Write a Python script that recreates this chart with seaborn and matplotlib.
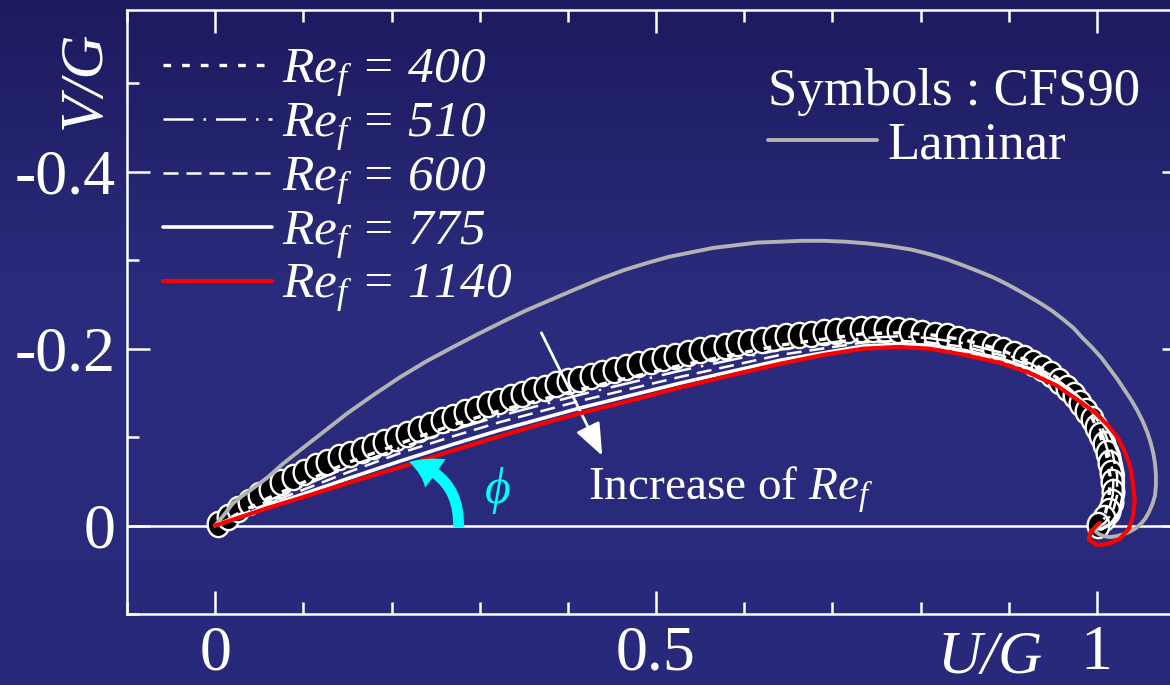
import numpy as np
import matplotlib
matplotlib.use("Agg")
import matplotlib.pyplot as plt
import seaborn as sns
from matplotlib.path import Path
from matplotlib.patches import FancyArrowPatch
from matplotlib.colors import LinearSegmentedColormap
from matplotlib.ticker import FixedLocator, MultipleLocator, FuncFormatter

# ---------------------------------------------------------------- data
# CFS90 computation (symbols): (U/G, V/G)
cfs_u = [0.003, 0.014, 0.026, 0.038, 0.050, 0.062, 0.075, 0.088, 0.101, 0.114,
         0.127, 0.140, 0.153, 0.166, 0.179, 0.192, 0.205, 0.218, 0.231, 0.244,
         0.257, 0.270, 0.283, 0.296, 0.309, 0.322, 0.335, 0.348, 0.361, 0.374,
         0.387, 0.400, 0.413, 0.426, 0.439, 0.452, 0.466, 0.480, 0.494, 0.508,
         0.522, 0.536, 0.550, 0.564, 0.578, 0.592, 0.606, 0.620, 0.634, 0.648,
         0.662, 0.676, 0.690, 0.704, 0.718, 0.732, 0.746, 0.760, 0.774, 0.788,
         0.802, 0.816, 0.830, 0.843, 0.856, 0.869, 0.882, 0.894, 0.906, 0.917,
         0.928, 0.938, 0.948, 0.957, 0.966, 0.974, 0.981, 0.988, 0.994, 0.999,
         1.004, 1.008, 1.011, 1.014, 1.016, 1.017, 1.018, 1.017, 1.014, 1.008,
         1.001]
cfs_v = [-0.002, -0.010, -0.019, -0.027, -0.034, -0.041, -0.049, -0.055, -0.061, -0.067,
         -0.072, -0.077, -0.081, -0.086, -0.090, -0.095, -0.099, -0.104, -0.109, -0.114,
         -0.119, -0.123, -0.128, -0.132, -0.137, -0.141, -0.145, -0.149, -0.153, -0.156,
         -0.160, -0.163, -0.166, -0.169, -0.172, -0.176, -0.179, -0.183, -0.186, -0.189,
         -0.192, -0.195, -0.198, -0.201, -0.203, -0.206, -0.208, -0.210, -0.212, -0.214,
         -0.216, -0.217, -0.219, -0.220, -0.221, -0.222, -0.222, -0.222, -0.221, -0.220,
         -0.218, -0.216, -0.214, -0.211, -0.208, -0.205, -0.202, -0.198, -0.194, -0.190,
         -0.184, -0.178, -0.171, -0.164, -0.156, -0.148, -0.139, -0.130, -0.121, -0.112,
         -0.102, -0.092, -0.082, -0.071, -0.060, -0.049, -0.038, -0.027, -0.017, -0.008,
         -0.001]

# Laminar solution
lam_u = [0.000, 0.005, 0.010, 0.020, 0.030, 0.040, 0.059, 0.077, 0.096, 0.123,
         0.150, 0.180, 0.210, 0.240, 0.270, 0.297, 0.323, 0.352, 0.380, 0.408,
         0.437, 0.464, 0.490, 0.515, 0.540, 0.565, 0.590, 0.615, 0.641, 0.665,
         0.690, 0.715, 0.740, 0.765, 0.790, 0.810, 0.830, 0.849, 0.867, 0.884,
         0.900, 0.918, 0.935, 0.949, 0.962, 0.974, 0.984, 0.995, 1.005, 1.014,
         1.023, 1.031, 1.039, 1.046, 1.052, 1.057, 1.061, 1.064, 1.066, 1.067,
         1.067, 1.066, 1.063, 1.059, 1.055, 1.050, 1.044, 1.037, 1.030, 1.022,
         1.015, 1.008, 1.003, 0.999, 0.998, 1.000]
lam_v = [0.000, -0.006, -0.012, -0.025, -0.033, -0.040, -0.054, -0.070, -0.085, -0.106,
         -0.127, -0.148, -0.168, -0.186, -0.202, -0.216, -0.229, -0.243, -0.255, -0.267,
         -0.279, -0.289, -0.297, -0.304, -0.309, -0.314, -0.317, -0.320, -0.321, -0.322,
         -0.322, -0.321, -0.319, -0.316, -0.312, -0.307, -0.301, -0.294, -0.287, -0.280,
         -0.272, -0.262, -0.252, -0.243, -0.233, -0.223, -0.212, -0.201, -0.190, -0.178,
         -0.166, -0.154, -0.142, -0.130, -0.118, -0.106, -0.094, -0.082, -0.070, -0.058,
         -0.045, -0.034, -0.024, -0.015, -0.008, -0.002, 0.003, 0.007, 0.010, 0.012,
         0.013, 0.012, 0.010, 0.007, 0.004, 0.000]

# Re_f = 400
re400_u = [0.000, 0.060, 0.150, 0.210, 0.270, 0.323, 0.414, 0.527, 0.641, 0.735,
           0.775, 0.810, 0.850, 0.890, 0.925, 0.955, 0.976, 0.992, 1.003, 1.011,
           1.015, 1.014, 1.010, 1.003, 1.000]
re400_v = [0.000, -0.031, -0.071, -0.093, -0.114, -0.130, -0.154, -0.181, -0.204, -0.217,
           -0.218, -0.216, -0.210, -0.199, -0.185, -0.167, -0.148, -0.127, -0.104, -0.080,
           -0.056, -0.034, -0.015, -0.003, 0.000]

# Re_f = 510
re510_u = [0.000, 0.060, 0.150, 0.210, 0.270, 0.323, 0.414, 0.527, 0.641, 0.735,
           0.775, 0.810, 0.850, 0.890, 0.925, 0.955, 0.977, 0.994, 1.006, 1.014,
           1.019, 1.018, 1.013, 1.005, 1.000]
re510_v = [0.000, -0.028, -0.066, -0.088, -0.108, -0.124, -0.148, -0.175, -0.199, -0.212,
           -0.214, -0.212, -0.206, -0.196, -0.183, -0.166, -0.147, -0.126, -0.104, -0.080,
           -0.056, -0.034, -0.015, -0.003, 0.000]

# Re_f = 600
re600_u = [0.000, 0.060, 0.150, 0.210, 0.270, 0.323, 0.414, 0.527, 0.641, 0.735,
           0.775, 0.810, 0.850, 0.890, 0.925, 0.955, 0.978, 0.996, 1.009, 1.018,
           1.023, 1.023, 1.018, 1.009, 1.001, 1.000]
re600_v = [0.000, -0.025, -0.060, -0.082, -0.101, -0.117, -0.141, -0.168, -0.193, -0.207,
           -0.209, -0.207, -0.202, -0.193, -0.181, -0.165, -0.147, -0.127, -0.105, -0.081,
           -0.057, -0.034, -0.015, -0.003, 0.002, 0.000]

# Re_f = 775
re775_u = [0.000, 0.060, 0.150, 0.210, 0.270, 0.323, 0.414, 0.527, 0.641, 0.735,
           0.775, 0.810, 0.850, 0.890, 0.925, 0.955, 0.980, 1.000, 1.015, 1.025,
           1.030, 1.030, 1.026, 1.016, 1.005, 0.998, 1.000]
re775_v = [0.000, -0.022, -0.053, -0.073, -0.092, -0.108, -0.133, -0.161, -0.187, -0.203,
           -0.205, -0.204, -0.198, -0.189, -0.177, -0.162, -0.144, -0.126, -0.105, -0.082,
           -0.058, -0.035, -0.015, -0.002, 0.004, 0.003, 0.000]

# Re_f = 1140
re1140_u = [0.000, 0.030, 0.060, 0.096, 0.150, 0.210, 0.270, 0.323, 0.370, 0.414,
            0.470, 0.527, 0.585, 0.641, 0.690, 0.735, 0.775, 0.810, 0.850, 0.890,
            0.925, 0.955, 0.984, 1.000, 1.013, 1.024, 1.032, 1.038, 1.041, 1.043,
            1.041, 1.036, 1.026, 1.012, 1.000, 0.991, 0.993, 1.003]
re1140_v = [0.000, -0.010, -0.020, -0.031, -0.048, -0.066, -0.085, -0.101, -0.115, -0.127,
            -0.141, -0.156, -0.170, -0.183, -0.193, -0.200, -0.202, -0.200, -0.193, -0.184,
            -0.172, -0.158, -0.138, -0.126, -0.113, -0.099, -0.083, -0.066, -0.047, -0.028,
            -0.010, 0.004, 0.015, 0.021, 0.022, 0.016, 0.007, -0.003]

re_labels = ["400", "510", "600", "775", "1140"]
x_ticks = [0, 0.5, 1]
y_ticks = [-0.4, -0.2, 0]

# ---------------------------------------------------------------- style
sns.set_theme(style="ticks")
plt.rcParams.update({
    "font.family": ["Liberation Serif", "DejaVu Serif"],
    "mathtext.fontset": "custom",
    "mathtext.rm": "Liberation Serif",
    "mathtext.it": "Liberation Serif:italic",
    "mathtext.bf": "Liberation Serif:bold",
    "axes.unicode_minus": False,
})

W, H = 1170, 685
fig = plt.figure(figsize=(W / 100, H / 100), dpi=100)


def fx(px):
    return px / W


def fy(py):
    return 1 - py / H


# vertical navy gradient background
bg = fig.add_axes([0, 0, 1, 1], zorder=-10)
grad_cmap = LinearSegmentedColormap.from_list(
    "navy", [(0.0, "#1c1b5f"), (0.45, "#2b2c7e"), (1.0, "#28297a")])
bg.imshow(np.linspace(0, 1, 256).reshape(-1, 1), aspect="auto", cmap=grad_cmap,
          extent=[0, 1, 0, 1])
bg.set_axis_off()

ax = fig.add_axes([fx(127), fy(614), fx(1185) - fx(127), (614 - 10) / H])
ax.set_facecolor("none")
ax.set_xlim(-0.1, 1.1)
ax.set_ylim(0.1, -0.583)

ax.axhline(0, color="white", lw=1.8, zorder=1)

# elliptical symbol marker
circ = Path.unit_circle()
ell = Path(circ.vertices * np.array([0.86, 1.0]), circ.codes)
sns.scatterplot(x=cfs_u, y=cfs_v, ax=ax, marker=ell, s=330, color="black",
                edgecolor="white", linewidth=1.7, legend=False, zorder=2)

sns.lineplot(x=lam_u, y=lam_v, ax=ax, sort=False, estimator=None,
             color="#b3b3b3", lw=2.8, zorder=3)
lam_line = ax.lines[-1]

styles = [
    (re400_u, re400_v, dict(color="white", lw=2.4, linestyle=(0, (2.3, 3.3)))),
    (re510_u, re510_v, dict(color="white", lw=1.8, linestyle=(0, (12, 4, 1, 4)))),
    (re600_u, re600_v, dict(color="white", lw=1.8, linestyle=(0, (6, 3.2)))),
    (re775_u, re775_v, dict(color="white", lw=2.6, solid_capstyle="round")),
    (re1140_u, re1140_v, dict(color="#ff0000", lw=3.0, solid_capstyle="round")),
]
re_lines = []
for u, v, kw in styles:
    sns.lineplot(x=u, y=v, ax=ax, sort=False, estimator=None, zorder=4, **kw)
    re_lines.append(ax.lines[-1])

# axes frame and ticks
for s in ax.spines.values():
    s.set_color("white")
    s.set_linewidth(1.8)
ax.xaxis.set_major_locator(FixedLocator(x_ticks))
ax.xaxis.set_minor_locator(MultipleLocator(0.1))
ax.yaxis.set_major_locator(FixedLocator(y_ticks))
ax.yaxis.set_minor_locator(MultipleLocator(0.1))
ax.xaxis.set_major_formatter(FuncFormatter(lambda v, p: f"{v:g}"))
ax.yaxis.set_major_formatter(FuncFormatter(lambda v, p: f"{v:g}"))
ax.tick_params(which="both", direction="in", top=True, right=True,
               color="white", labelcolor="white", width=1.8, labelsize=46)
ax.tick_params(which="major", length=16.5, pad=8)
ax.tick_params(which="minor", length=8.5)
ax.set_xlabel("")
ax.set_ylabel("")

fig.text(fx(85), fy(80), "V/G", rotation=90, fontsize=44, style="italic",
         color="white", ha="center", va="center")
fig.text(fx(990), fy(658), "U/G", fontsize=44, style="italic",
         color="white", ha="center", va="center")

# legends
labels = [r"$Re_f$ = " + r for r in re_labels]
leg1 = ax.legend(re_lines, labels, loc="upper left",
                 bbox_to_anchor=(fx(163), fy(47)), bbox_transform=fig.transFigure,
                 frameon=False, fontsize=37, handlelength=2.12, handletextpad=0.2,
                 labelspacing=0.02, borderpad=0, borderaxespad=0)
for t in leg1.get_texts():
    t.set_color("white")
    t.set_fontstyle("italic")
ax.add_artist(leg1)

leg2 = ax.legend([lam_line], ["Laminar"], loc="upper left",
                 bbox_to_anchor=(fx(768), fy(68)), bbox_transform=fig.transFigure,
                 frameon=False, fontsize=38, title="Symbols : CFS90",
                 title_fontsize=38, alignment="left", handlelength=2.06,
                 handletextpad=0.2, labelspacing=0.1, borderpad=0, borderaxespad=0)
leg2.get_title().set_color("white")
for t in leg2.get_texts():
    t.set_color("white")

# annotations
ax.annotate("", xy=(0.439, -0.079), xytext=(0.370, -0.218),
            arrowprops=dict(arrowstyle="-|>,head_length=0.9,head_width=0.36",
                            mutation_scale=22, lw=2.0, color="white",
                            shrinkA=0, shrinkB=0))
fig.text(fx(588), fy(500), r"Increase of $Re_f$", fontsize=34, color="white",
         ha="left", va="baseline")

phi_arrow = FancyArrowPatch((0.276, 0.002), (0.220, -0.072),
                            connectionstyle="arc3,rad=0.4",
                            arrowstyle="simple,head_length=0.45,head_width=0.55,tail_width=0.17",
                            mutation_scale=46, color="#00ffff", lw=0,
                            shrinkA=0, shrinkB=0, zorder=5)
ax.add_patch(phi_arrow)
fig.text(fx(497), fy(490), r"$\phi$", fontsize=36, color="#00ffff",
         ha="center", va="center")

fig.savefig("out.png", dpi=100)
